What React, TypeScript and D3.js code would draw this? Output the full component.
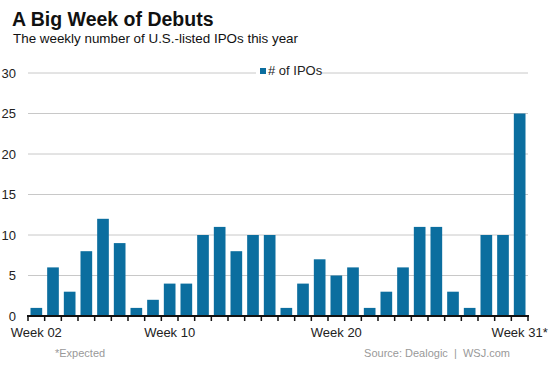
import React from "react";
import * as d3 from "d3";

const weeks = [
  "02","03","04","05","06","07","08","09","10","11","12","13","14","15","16",
  "17","18","19","20","21","22","23","24","25","26","27","28","29","30","31*",
];
const ipos = [1,6,3,8,12,9,1,2,4,4,10,11,8,10,10,1,4,7,5,6,1,3,6,11,11,3,1,10,10,25];
const labeledWeeks = ["02","10","20","31*"];
const yTicks = [0,5,10,15,20,25,30];

const W = 553, H = 369;
const left = 28, right = 528, top = 73, bottom = 316;
const FONT = "'Liberation Sans', Arial, sans-serif";
const BLUE = "#0b6e9f";

export default function App() {
  const x = d3.scaleBand<string>().domain(weeks).range([left, right]).paddingInner(0.3).paddingOuter(0.15);
  const y = d3.scaleLinear().domain([0, 30]).range([bottom, top]);
  const step = x.step();
  const tickXs = weeks.map((w) => (x(w) as number) - step * 0.15).concat([(x(weeks[weeks.length - 1]) as number) + x.bandwidth() + step * 0.15]);
  return (
    <svg width={W} height={H} style={{ position: "absolute", left: 0, top: 0, background: "#fff" }} fontFamily={FONT}>
      <text x={12} y={26} fontSize={19.5} fontWeight="bold" fill="#111">A Big Week of Debuts</text>
      <text x={13} y={43} fontSize={13.4} fill="#111">The weekly number of U.S.-listed IPOs this year</text>
      {yTicks.map((t) => (
        <g key={t}>
          {t > 0 && <line x1={left} x2={right} y1={y(t)} y2={y(t)} stroke="#c8c8c8" strokeWidth={1} />}
          <text x={16} y={y(t) + 4.5} fontSize={13} textAnchor="end" fill="#222">{t}</text>
        </g>
      ))}
      <rect x={256} y={64} width={66} height={14} fill="#fff" />
      <rect x={260} y={68} width={6} height={6} fill={BLUE} />
      <text x={268} y={75} fontSize={13} fill="#222"># of IPOs</text>
      {weeks.map((w, i) => (
        <rect key={w} x={x(w)} y={y(ipos[i])} width={x.bandwidth()} height={bottom - y(ipos[i])} fill={BLUE} />
      ))}
      <line x1={left - 1} x2={right + 1} y1={bottom} y2={bottom} stroke="#111" strokeWidth={2} />
      {tickXs.map((tx, i) => (
        <line key={i} x1={tx} x2={tx} y1={bottom} y2={bottom + 5} stroke="#111" strokeWidth={1.5} />
      ))}
      {labeledWeeks.map((w) => (
        <text key={w} x={(x(w) as number) + x.bandwidth() / 2} y={337} fontSize={13} textAnchor="middle" fill="#222">{"Week " + w}</text>
      ))}
      <text x={55} y={357} fontSize={11} fill="#999">*Expected</text>
      <text x={510} y={357} fontSize={11} textAnchor="end" fill="#999">{"Source: Dealogic\u00a0\u00a0|\u00a0\u00a0WSJ.com"}</text>
    </svg>
  );
}
